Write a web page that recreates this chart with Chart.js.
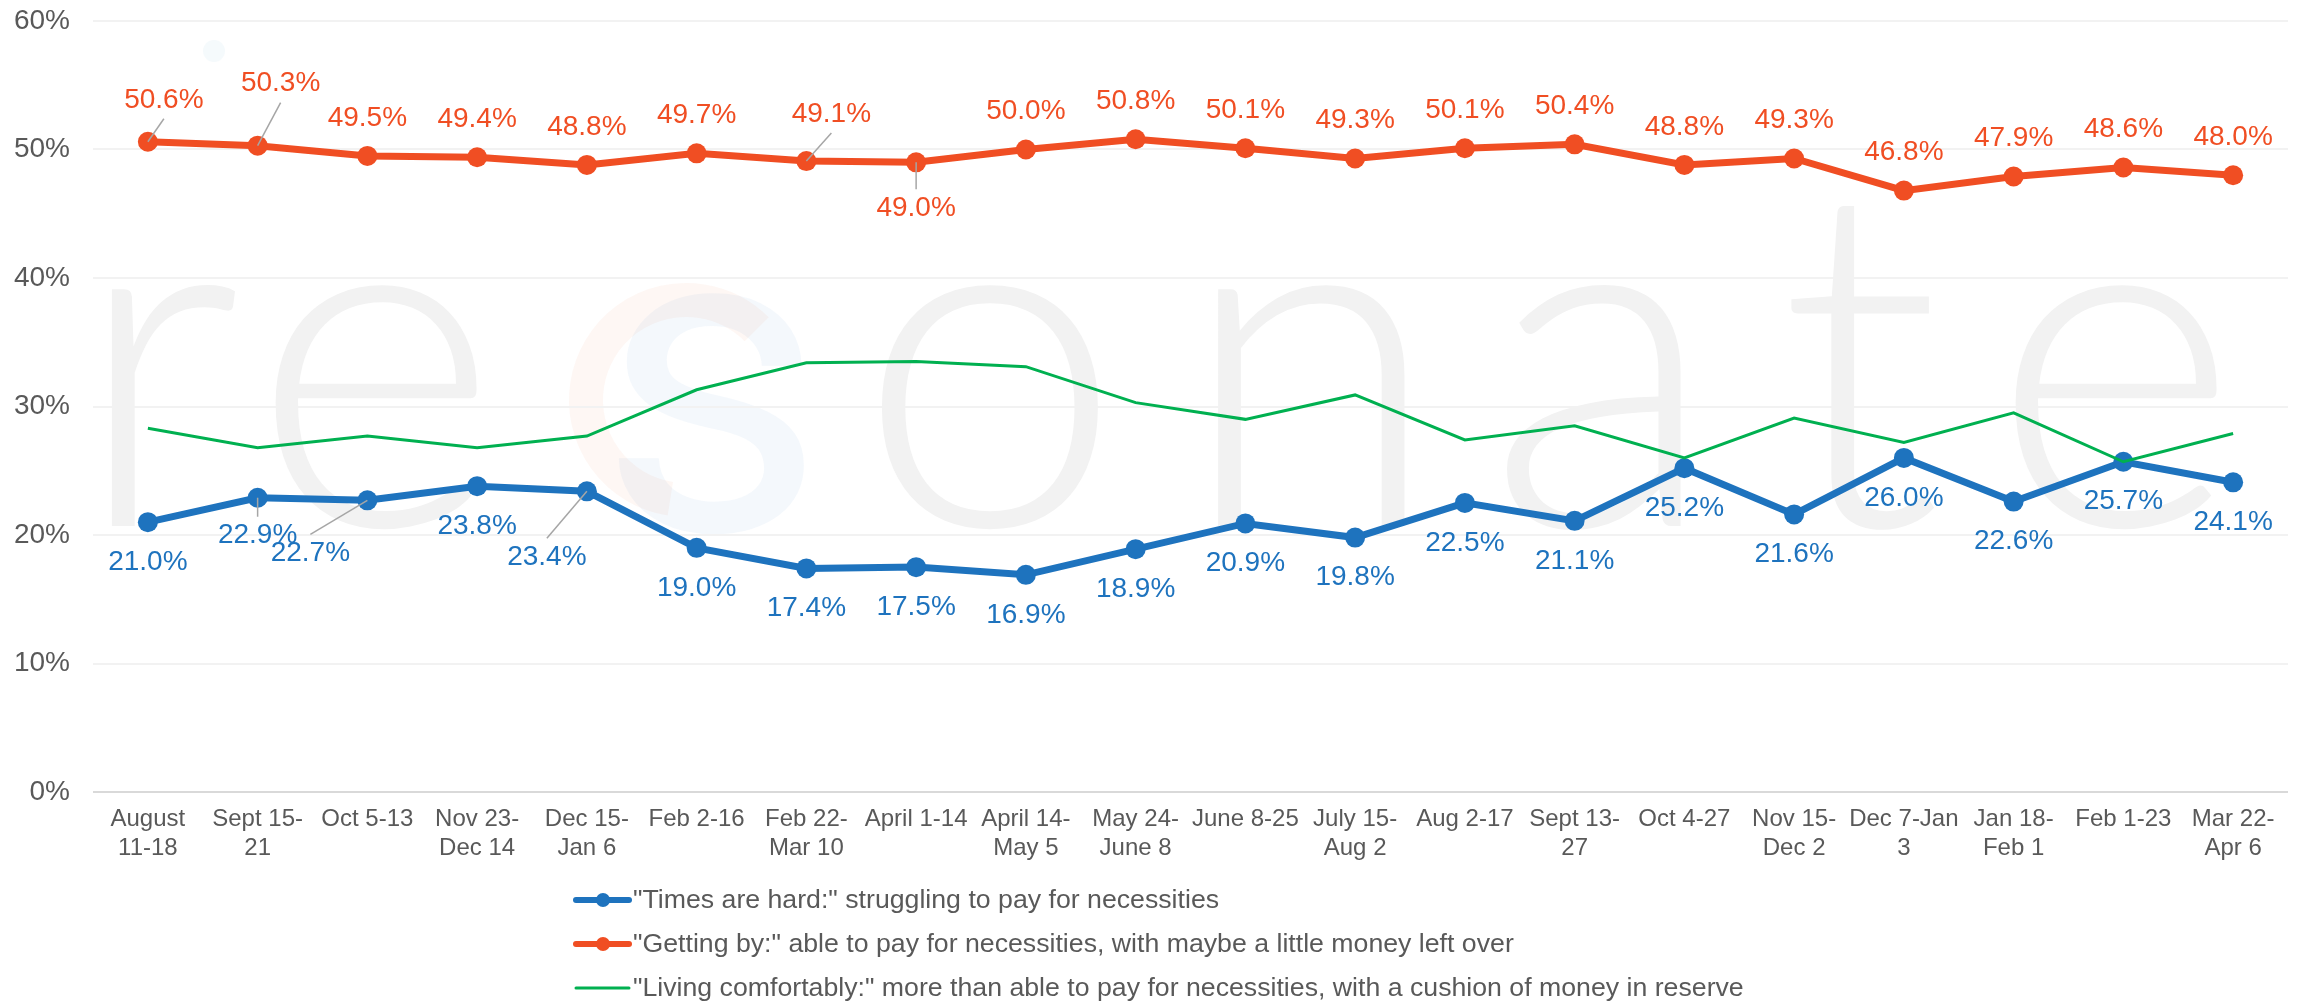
<!DOCTYPE html>
<html>
<head>
<meta charset="utf-8">
<title>Financial situation over time</title>
<script src="https://cdn.jsdelivr.net/npm/chart.js@4.4.1/dist/chart.umd.min.js"></script>
<style>
  html, body { margin: 0; padding: 0; background: #fff; }
  #chart { display: block; }
</style>
</head>
<body>
<canvas id="chart" width="2298" height="1004"></canvas>
<script>
// ======================= DATA =======================
const periods = [
    ["August", "11-18"], ["Sept 15-", "21"], "Oct 5-13", ["Nov 23-", "Dec 14"],
    ["Dec 15-", "Jan 6"], "Feb 2-16", ["Feb 22-", "Mar 10"], "April 1-14",
    ["April 14-", "May 5"], ["May 24-", "June 8"], "June 8-25", ["July 15-", "Aug 2"],
    "Aug 2-17", ["Sept 13-", "27"], "Oct 4-27", ["Nov 15-", "Dec 2"],
    ["Dec 7-Jan", "3"], ["Jan 18-", "Feb 1"], "Feb 1-23", ["Mar 22-", "Apr 6"]
];

const timesHard   = [21.0, 22.9, 22.7, 23.8, 23.4, 19.0, 17.4, 17.5, 16.9, 18.9,
                     20.9, 19.8, 22.5, 21.1, 25.2, 21.6, 26.0, 22.6, 25.7, 24.1];
const gettingBy   = [50.6, 50.3, 49.5, 49.4, 48.8, 49.7, 49.1, 49.0, 50.0, 50.8,
                     50.1, 49.3, 50.1, 50.4, 48.8, 49.3, 46.8, 47.9, 48.6, 48.0];
const comfortable = [28.3, 26.8, 27.7, 26.8, 27.7, 31.3, 33.4, 33.5, 33.1, 30.3,
                     29.0, 30.9, 27.4, 28.5, 26.0, 29.1, 27.2, 29.5, 25.7, 27.9];

const seriesNames = [
    '"Times are hard:" struggling to pay for necessities',
    '"Getting by:" able to pay for necessities, with maybe a little money left over',
    '"Living comfortably:" more than able to pay for necessities, with a cushion of money in reserve'
];

const yMin = 0, yMax = 60, yStep = 10;

// ======================= STYLE =======================
const FONT = '"Liberation Sans", Arial, Helvetica, sans-serif';
const GREY_TEXT = '#595959';
const BLUE = '#1e73be';
const ORANGE = '#f04e23';
const GREEN = '#00b050';

// label placement (dx, dy from the point, leader line yes/no)
const hardLabelDefault = [0, 40, false];
const hardLabelMoves = { 1: [0, 38, true], 2: [-57, 53, true], 4: [-40, 66, true] };
const byLabelDefault = [0, -38, false];
const byLabelMoves = { 0: [16, -42, true], 1: [23, -62, true], 6: [25, -47, true], 7: [0, 46, true] };

// ======================= PLUGINS =======================
const watermarkPlugin = {
    id: 'watermark',
    beforeDraw(chart) {
        const ctx = chart.ctx;
        ctx.save();
        ctx.fillStyle = '#fff';
        ctx.fillRect(0, 0, chart.width, chart.height);

        // faint "resonate" behind the plot
        ctx.font = '300 476px Lato, Roboto, ' + FONT;
        ctx.textAlign = 'center';
        ctx.textBaseline = 'alphabetic';
        ctx.fillStyle = '#f2f2f2';
        [['r', 157], ['e', 375], ['o', 990], ['n', 1310], ['a', 1602], ['t', 1860], ['e', 2115]]
            .forEach(([ch, x]) => ctx.fillText(ch, x, 526));

        // the coloured "s" logo
        ctx.strokeStyle = 'rgba(240, 120, 60, 0.06)';
        ctx.lineWidth = 34;
        ctx.beginPath();
        ctx.ellipse(686, 400, 100, 100, 0, Math.PI * 0.55, Math.PI * 1.75);
        ctx.stroke();
        ctx.font = '440px Roboto, ' + FONT;
        ctx.fillStyle = 'rgba(110, 160, 215, 0.08)';
        ctx.fillText('s', 712, 530);

        ctx.fillStyle = 'rgba(120, 180, 215, 0.07)';
        ctx.beginPath();
        ctx.arc(214, 51, 11, 0, Math.PI * 2);
        ctx.fill();
        ctx.restore();
    }
};

const pointLabelPlugin = {
    id: 'pointLabels',
    afterDatasetsDraw(chart) {
        const ctx = chart.ctx;
        ctx.save();
        ctx.font = '28px ' + FONT;
        ctx.textAlign = 'center';
        ctx.textBaseline = 'middle';
        chart.data.datasets.forEach((ds, di) => {
            if (!ds.labelDefault) return;
            const meta = chart.getDatasetMeta(di);
            meta.data.forEach((pt, i) => {
                const off = ds.labelMoves[i] || ds.labelDefault;
                const lx = pt.x + off[0];
                const ly = pt.y + off[1];
                if (off[2]) {
                    ctx.strokeStyle = '#a6a6a6';
                    ctx.lineWidth = 1.5;
                    ctx.beginPath();
                    ctx.moveTo(pt.x, pt.y);
                    ctx.lineTo(lx, off[1] < 0 ? ly + 19 : ly - 19);
                    ctx.stroke();
                }
                ctx.fillStyle = ds.borderColor;
                ctx.fillText(ds.data[i].toFixed(1) + '%', lx, ly);
            });
        });
        ctx.restore();
    }
};

const legendPlugin = {
    id: 'rowLegend',
    afterDraw(chart) {
        const ctx = chart.ctx;
        ctx.save();
        ctx.font = '26.7px ' + FONT;
        ctx.textBaseline = 'middle';
        ctx.lineCap = 'round';
        chart.data.datasets.forEach((ds, i) => {
            const x = 576;
            const y = 900 + i * 44;
            ctx.strokeStyle = ds.borderColor;
            ctx.lineWidth = ds.pointRadius > 0 ? 6 : 3;
            ctx.beginPath();
            ctx.moveTo(x, y);
            ctx.lineTo(x + 53, y);
            ctx.stroke();
            if (ds.pointRadius > 0) {
                ctx.fillStyle = ds.borderColor;
                ctx.beginPath();
                ctx.arc(x + 27, y, 7, 0, Math.PI * 2);
                ctx.fill();
            }
            ctx.fillStyle = GREY_TEXT;
            ctx.fillText(ds.label, x + 57, y + 1);
        });
        ctx.restore();
    }
};

// ======================= CHART =======================
const ctx = document.getElementById('chart').getContext('2d');
new Chart(ctx, {
    type: 'line',
    data: {
        labels: periods,
        datasets: [
            {
                label: seriesNames[0],
                data: timesHard,
                borderColor: BLUE,
                backgroundColor: BLUE,
                borderWidth: 7,
                pointRadius: 10,
                pointBorderWidth: 0,
                pointBackgroundColor: BLUE,
                tension: 0,
                order: 1,
                labelDefault: hardLabelDefault,
                labelMoves: hardLabelMoves
            },
            {
                label: seriesNames[1],
                data: gettingBy,
                borderColor: ORANGE,
                backgroundColor: ORANGE,
                borderWidth: 7,
                pointRadius: 10,
                pointBorderWidth: 0,
                pointBackgroundColor: ORANGE,
                tension: 0,
                order: 1,
                labelDefault: byLabelDefault,
                labelMoves: byLabelMoves
            },
            {
                label: seriesNames[2],
                data: comfortable,
                borderColor: GREEN,
                backgroundColor: GREEN,
                borderWidth: 3,
                pointRadius: 0,
                tension: 0,
                order: 0
            }
        ]
    },
    options: {
        responsive: false,
        devicePixelRatio: 1,
        animation: false,
        events: [],
        layout: { padding: { top: 21, right: 2, left: 0, bottom: 0 } },
        plugins: {
            legend: { display: false },
            tooltip: { enabled: false }
        },
        scales: {
            x: {
                offset: true,
                grid: { display: false, drawTicks: false },
                border: { display: false },
                ticks: {
                    color: GREY_TEXT,
                    font: { family: FONT, size: 24, lineHeight: 1.2 },
                    padding: 13,
                    maxRotation: 0,
                    autoSkip: false
                },
                afterFit(scale) { scale.height = 212; }
            },
            y: {
                min: yMin,
                max: yMax,
                grid: {
                    drawTicks: false,
                    lineWidth: 2,
                    color: c => c.tick && c.tick.value === 0 ? '#d9d9d9' : '#f2f2f2'
                },
                border: { display: false },
                ticks: {
                    stepSize: yStep,
                    color: GREY_TEXT,
                    font: { family: FONT, size: 28 },
                    padding: 23,
                    callback: v => v + '%'
                },
                afterFit(scale) {
                    scale.width = 93;
                    // tick padding should only push labels sideways, not shrink the plot
                    scale.paddingTop = 0;
                    scale.paddingBottom = 0;
                }
            }
        }
    },
    plugins: [watermarkPlugin, pointLabelPlugin, legendPlugin]
});
</script>
</body>
</html>
